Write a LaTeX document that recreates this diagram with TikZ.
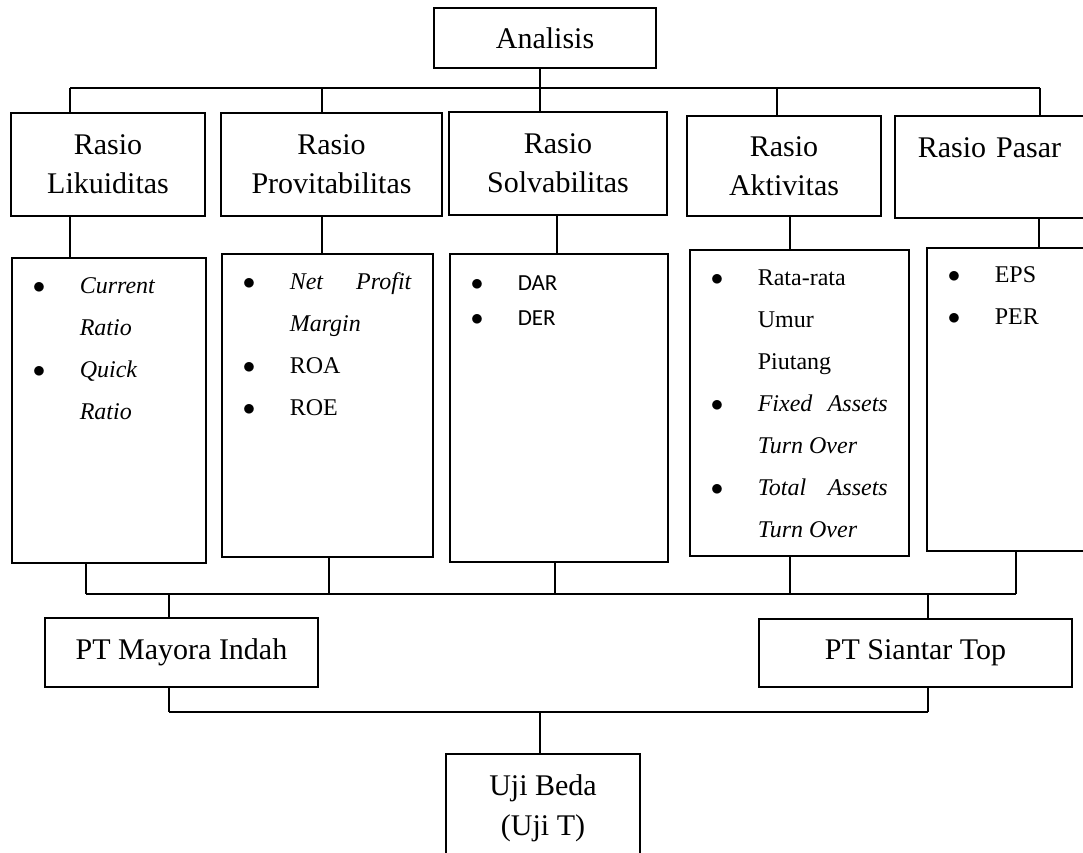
\documentclass[tikz,border=0pt]{standalone}
\usepackage{fontspec}
\setmainfont{Liberation Serif}
\newfontfamily\carlito{Carlito}
\usetikzlibrary{calc}
\newcommand{\bitem}[1]{\hspace*{21pt}\makebox[47pt][l]{$\bullet$}#1\strut\par}
\newcommand{\citem}[1]{\hspace*{68pt}#1\strut\par}

\begin{document}
\begin{tikzpicture}[x=1pt,y=-1pt,line width=1.6pt,
	box/.style={draw,inner sep=0pt,align=center,font=\fontsize{30}{39}\selectfont},
	listbox/.style={draw,inner sep=0pt,anchor=north west,font=\fontsize{24}{42}\selectfont}]
	\useasboundingbox (0,0) rectangle (1083,852);
	\node [box,minimum width=222pt,minimum height=60pt] (ana) at (545,38) {Analisis};
	\node [box,minimum width=194pt,minimum height=103pt] (lik) at (108,164.5) {Rasio\\Likuiditas};
	\node [box,minimum width=221pt,minimum height=103pt] (pro) at (331.5,164.5) {Rasio\\Provitabilitas};
	\node [box,minimum width=218pt,minimum height=103pt] (sol) at (558,163.5) {Rasio\\Solvabilitas};
	\node [box,minimum width=194pt,minimum height=100pt] (akt) at (784,166) {Rasio\\Aktivitas};
	\node [box,anchor=north west,align=left,text width=183pt,inner xsep=23pt,minimum height=102pt] (pas) at (894,115) {Rasio Pasar\\\mbox{}};
	\node [listbox] (likl) at (11,257) {\begin{minipage}[t][305pt][t]{194pt}\vspace*{6pt}%
		\bitem{\textit{Current}}\citem{\textit{Ratio}}\bitem{\textit{Quick}}\citem{\textit{Ratio}}\end{minipage}};
	\node [listbox] (prol) at (221,253) {\begin{minipage}[t][303pt][t]{211pt}\vspace*{6pt}%
		\bitem{\makebox[122pt][s]{\textit{Net}\hfill\textit{Profit}}}\citem{\textit{Margin}}\bitem{ROA}\bitem{ROE}\end{minipage}};
	\node [listbox] (soll) at (449,253) {\begin{minipage}[t][308pt][t]{218pt}\vspace*{12pt}%
		{\carlito\fontsize{23}{35}\selectfont\bitem{DAR}\bitem{DER}}\end{minipage}};
	\node [listbox] (aktl) at (689,249) {\begin{minipage}[t][306pt][t]{219pt}\vspace*{6pt}%
		\bitem{Rata-rata}\citem{Umur}\citem{Piutang}%
		\bitem{\makebox[130pt][s]{\textit{Fixed}\hfill\textit{Assets}}}\citem{\textit{Turn Over}}%
		\bitem{\makebox[130pt][s]{\textit{Total}\hfill\textit{Assets}}}\citem{\textit{Turn Over}}\end{minipage}};
	\node [listbox] (pasl) at (926,247) {\begin{minipage}[t][303pt][t]{180pt}\vspace*{5pt}%
		\bitem{EPS}\bitem{PER}\end{minipage}};
	\node [box,minimum width=273pt,minimum height=69pt] (may) at (181.5,652.5) {PT Mayora Indah};
	\node [box,minimum width=313pt,minimum height=68pt] (sia) at (915.5,653) {PT Siantar Top};
	\node [draw,inner sep=0pt,anchor=north,font=\fontsize{30}{40}\selectfont] (uji) at (543,753) {\begin{minipage}[t][140pt][t]{194pt}\centering\vspace*{14pt}%
		\strut Uji Beda\\\strut(Uji T)\end{minipage}};
	\coordinate (t1) at (70,88);
	\coordinate (t2) at (322,88);
	\coordinate (t3) at (540,88);
	\coordinate (t4) at (777,88);
	\coordinate (t5) at (1040,88);
	\coordinate (u1) at (86,594);
	\coordinate (u2) at (329,594);
	\coordinate (u3) at (555,594);
	\coordinate (u4) at (790,594);
	\coordinate (u5) at (1016,594);
	\coordinate (v1) at (169,594);
	\coordinate (v2) at (928,594);
	\coordinate (w1) at (169,712);
	\coordinate (w2) at (928,712);
	\coordinate (w3) at (540,712);
	\draw (t1) -- (t5);
	\draw (ana.south -| t3) -- (t3);
	\draw (t1) -- (t1 |- lik.north);
	\draw (t2) -- (t2 |- pro.north);
	\draw (t3) -- (t3 |- sol.north);
	\draw (t4) -- (t4 |- akt.north);
	\draw (t5) -- (t5 |- pas.north);
	\draw ([xshift=59pt]likl.north west |- lik.south) -- ([xshift=59pt]likl.north west);
	\draw ([xshift=101pt]prol.north west |- pro.south) -- ([xshift=101pt]prol.north west);
	\draw ([xshift=108pt]soll.north west |- sol.south) -- ([xshift=108pt]soll.north west);
	\draw ([xshift=101pt]aktl.north west |- akt.south) -- ([xshift=101pt]aktl.north west);
	\draw ([xshift=113pt]pasl.north west |- pas.south) -- ([xshift=113pt]pasl.north west);
	\draw (u1) -- (u5);
	\draw (u1 |- likl.south) -- (u1);
	\draw (u2 |- prol.south) -- (u2);
	\draw (u3 |- soll.south) -- (u3);
	\draw (u4 |- aktl.south) -- (u4);
	\draw (u5 |- pasl.south) -- (u5);
	\draw (v1) -- (v1 |- may.north);
	\draw (v2) -- (v2 |- sia.north);
	\draw (w1) -- (w2);
	\draw (w1 |- may.south) -- (w1);
	\draw (w2 |- sia.south) -- (w2);
	\draw (w3) -- (w3 |- uji.north);
\end{tikzpicture}
\end{document}
